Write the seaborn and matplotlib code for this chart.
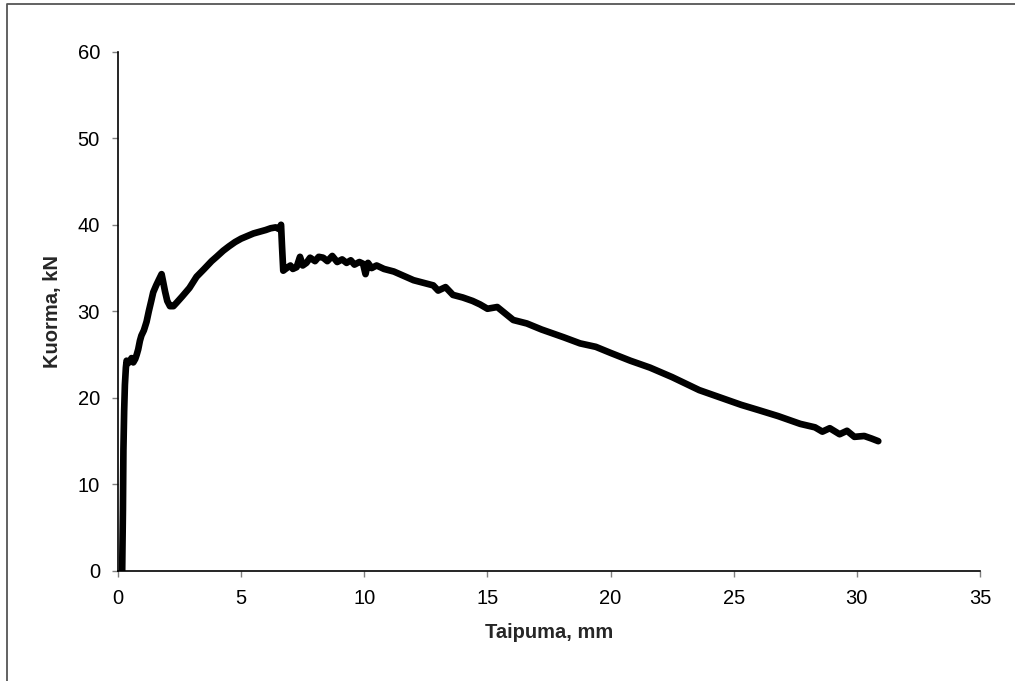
import matplotlib
matplotlib.use("Agg")
import matplotlib.pyplot as plt
import seaborn as sns
import pandas as pd
from matplotlib.lines import Line2D

# Deflection (mm) and load (kN)
taipuma = [0.17, 0.18, 0.20, 0.22, 0.25, 0.28, 0.32, 0.35, 0.40, 0.49, 0.55, 0.62, 0.70, 0.76,
           0.82, 0.89, 0.95, 1.05, 1.16, 1.25, 1.35, 1.43, 1.55, 1.65, 1.77, 1.82, 1.91, 2.00,
           2.11, 2.25, 2.38, 2.60, 2.90, 3.19, 3.50, 3.80, 4.00, 4.27, 4.50, 4.75, 5.00, 5.25,
           5.50, 5.75, 6.00, 6.20, 6.40, 6.55, 6.62, 6.66, 6.71, 6.85, 7.00, 7.10, 7.25, 7.39,
           7.50, 7.65, 7.80, 8.00, 8.15, 8.33, 8.50, 8.70, 8.90, 9.10, 9.28, 9.45, 9.60, 9.80,
           9.95, 10.05, 10.15, 10.30, 10.50, 10.80, 11.20, 11.60, 12.00, 12.40, 12.80, 13.00,
           13.30, 13.60, 14.00, 14.40, 14.70, 15.00, 15.40, 16.05, 16.60, 17.20, 18.10, 18.76,
           19.40, 20.00, 20.80, 21.60, 22.50, 23.60, 24.50, 25.30, 26.00, 26.80, 27.70, 28.30,
           28.60, 28.90, 29.30, 29.60, 29.90, 30.30, 30.60, 30.87]
kuorma = [0.0, 2.5, 7.0, 14.0, 18.5, 21.5, 23.5, 24.3, 24.0, 24.2, 24.6, 24.1, 24.5, 25.0,
          25.6, 26.6, 27.2, 27.8, 28.8, 30.0, 31.2, 32.2, 33.0, 33.6, 34.3, 33.6, 32.3, 31.2,
          30.6, 30.6, 31.0, 31.7, 32.7, 34.0, 34.9, 35.8, 36.3, 37.0, 37.5, 38.0, 38.4, 38.7,
          39.0, 39.2, 39.4, 39.6, 39.7, 39.5, 40.0, 37.5, 34.7, 35.0, 35.3, 34.9, 35.1, 36.3,
          35.3, 35.6, 36.2, 35.8, 36.3, 36.2, 35.8, 36.4, 35.7, 36.0, 35.6, 35.9, 35.4, 35.7,
          35.5, 34.3, 35.6, 35.0, 35.3, 34.9, 34.6, 34.1, 33.6, 33.3, 33.0, 32.4, 32.8, 31.9,
          31.6, 31.2, 30.8, 30.3, 30.5, 29.0, 28.6, 27.9, 27.0, 26.3, 25.9, 25.2, 24.3, 23.5,
          22.4, 20.9, 20.0, 19.2, 18.6, 17.9, 17.0, 16.6, 16.1, 16.5, 15.8, 16.2, 15.5, 15.6,
          15.3, 15.0]

xticks = [0, 5, 10, 15, 20, 25, 30, 35]
yticks = [0, 10, 20, 30, 40, 50, 60]

df = pd.DataFrame({"Taipuma": taipuma, "Kuorma": kuorma})

sns.set_style("ticks")
plt.rcParams['font.family'] = ['Liberation Sans', 'DejaVu Sans']

fig = plt.figure(figsize=(10.15, 6.81), dpi=100)
ax = fig.add_axes([118/1015, 1 - 571/681, (980 - 118)/1015, (571 - 51.7)/681])

sns.lineplot(data=df, x="Taipuma", y="Kuorma", sort=False, estimator=None,
             color="black", linewidth=4.8, ax=ax,
             solid_joinstyle="round", solid_capstyle="round")

ax.set_xlim(0, 35)
ax.set_ylim(0, 60)
ax.set_xticks(xticks)
ax.set_yticks(yticks)
ax.set_xticklabels([str(t) for t in xticks])
ax.set_yticklabels([str(t) for t in yticks])
ax.spines["top"].set_visible(False)
ax.spines["right"].set_visible(False)
for s in ("left", "bottom"):
    ax.spines[s].set_color("black")
    ax.spines[s].set_linewidth(1.2)
ax.tick_params(axis="both", direction="out", length=4.5, width=1.0, color="#808080",
               labelsize=14.5, labelcolor="black", pad=8.5)
ax.set_xlabel("Taipuma, mm", fontsize=14.5, fontweight="bold", labelpad=11)
ax.set_ylabel("Kuorma, kN", fontsize=14.5, fontweight="bold", labelpad=11)
ax.grid(False)

# outer chart-area frame
x0 = 6.5 / 1015
y0 = 1 - 3.5 / 681
fig.add_artist(Line2D([x0, x0, 1.0], [0.0, y0, y0], transform=fig.transFigure,
                      color="#555555", linewidth=1.3))

fig.savefig("out.png", dpi=100, facecolor="white")
